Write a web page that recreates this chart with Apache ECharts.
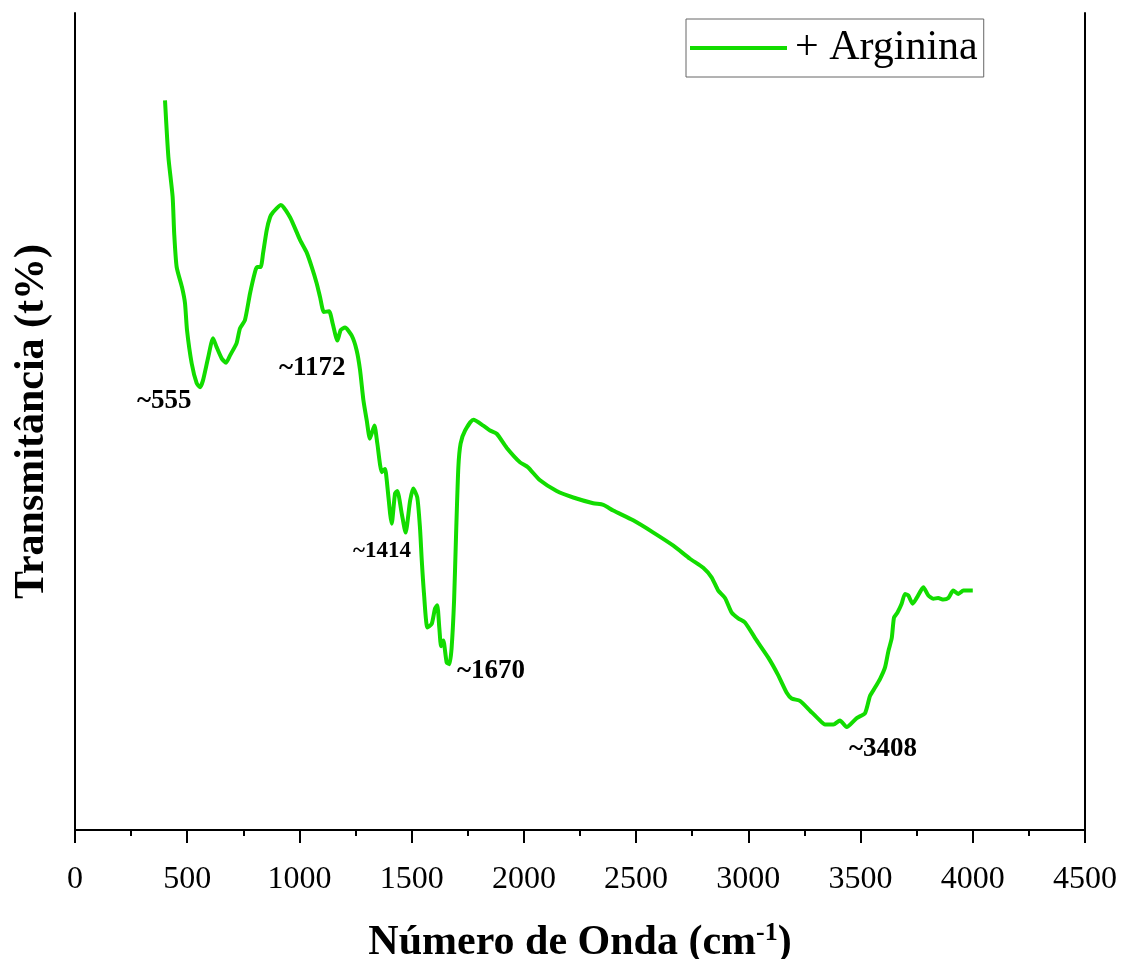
<!DOCTYPE html>
<html>
<head>
<meta charset="utf-8">
<script src="https://cdn.jsdelivr.net/npm/echarts@6/dist/echarts.min.js"></script>
<style>html,body{margin:0;padding:0;background:#fff;}#c{width:1121px;height:959px;}</style>
</head>
<body>
<div id="c"></div>
<script>
// Wavenumber (cm-1)
const wavenumbers = [401,416,435,442,453,477,490,499,520,542,557,570,593,615,631,654,673,691,720,735,757,780,802,811,827,838,854,869,882,917,958,1003,1032,1055,1077,1092,1109,1132,1148,1169,1184,1203,1233,1255,1270,1285,1300,1314,1334,1347,1367,1381,1389,1404,1411,1426,1436,1456,1473,1493,1507,1525,1537,1545,1555,1570,1589,1604,1614,1623,1631,1641,1656,1668,1678,1689,1698,1708,1718,1738,1775,1819,1849,1879,1923,1983,2018,2072,2146,2220,2309,2354,2398,2487,2577,2666,2740,2799,2837,2866,2896,2926,2955,2985,3037,3089,3134,3171,3193,3230,3275,3312,3342,3379,3408,3438,3483,3520,3542,3564,3587,3609,3624,3639,3649,3664,3683,3698,3713,3732,3750,3780,3802,3824,3846,3869,3891,3913,3936,3958,4000];
// Transmittance (arbitrary %)
const transmittance = [89.3,82.4,77.5,73.0,68.9,66.4,64.5,61.2,57.1,54.7,54.2,55.0,57.8,60.2,59.1,57.7,57.2,58.1,59.6,61.4,62.4,65.7,68.3,68.9,68.9,70.6,73.4,75.0,75.6,76.5,75.0,72.2,70.7,68.9,66.9,65.2,63.4,63.5,62.0,59.9,61.2,61.5,60.5,58.7,56.3,52.6,50.1,47.9,49.5,47.3,43.8,44.2,42.8,38.7,37.5,41.2,41.5,38.7,36.4,40.3,41.8,40.7,37.0,33.0,28.9,24.8,25.2,27.1,27.5,24.8,22.5,23.2,20.5,20.3,22.3,28.1,36.3,44.4,47.3,48.9,50.2,49.5,48.9,48.5,46.8,45.0,44.4,42.8,41.5,40.7,40.0,39.8,39.1,37.9,36.4,34.8,33.2,32.1,30.9,29.3,28.4,26.6,25.9,25.4,23.2,21.1,18.9,16.8,16.1,15.8,14.6,13.6,12.9,12.9,13.4,12.6,13.7,14.3,16.4,17.4,18.5,19.9,21.9,23.5,26.0,26.6,27.7,28.9,28.7,27.7,28.4,29.7,28.7,28.3,28.4,28.2,28.4,29.3,28.9,29.3,29.3];
const xTicks = [0,500,1000,1500,2000,2500,3000,3500,4000,4500];
const seriesName = '+ Arginina';
const peakLabels = ['~555','~1172','~1414','~1670','~3408'];

const FONT = '"Liberation Serif","Times New Roman",serif';
const GREEN = '#12dc00';
const chart = echarts.init(document.getElementById('c'));
const data = wavenumbers.map((w,i)=>[w, transmittance[i]]);

chart.setOption({
  animation:false,
  backgroundColor:'#fff',
  grid:{left:75,right:36,top:13,bottom:129,containLabel:false,outerBoundsMode:'none'},
  legend:{
    left:686, top:19, padding:[8,6,8,4],
    borderColor:'#666', borderWidth:1, borderRadius:0,
    icon:'rect', itemWidth:97, itemHeight:4,
    textStyle:{fontFamily:FONT,fontSize:42,color:'#000',padding:[0,0,0,3]},
    data:[seriesName]
  },
  xAxis:{
    type:'value', min:xTicks[0], max:xTicks[xTicks.length-1], interval:500,
    name:'{a|Número de Onda (cm}{s|-1}{a|)}',
    nameLocation:'middle', nameGap:90,
    nameTextStyle:{rich:{
      a:{fontFamily:FONT,fontSize:42,fontWeight:'bold',color:'#000'},
      s:{fontFamily:FONT,fontSize:26,fontWeight:'bold',color:'#000',padding:[0,0,20,0]}
    }},
    axisLine:{lineStyle:{color:'#000',width:2}},
    axisTick:{inside:false,length:13,lineStyle:{color:'#000',width:2}},
    minorTick:{show:true,splitNumber:2,length:6,lineStyle:{color:'#000',width:2}},
    axisLabel:{fontFamily:FONT,fontSize:32,color:'#000',margin:34,formatter:v=>String(v)},
    splitLine:{show:false}
  },
  yAxis:[{
    type:'value', min:0, max:100, position:'left',
    name:'Transmitância (t%)', nameLocation:'middle', nameGap:22,
    nameTextStyle:{fontFamily:FONT,fontSize:42,fontWeight:'bold',color:'#000'},
    axisLine:{show:true,lineStyle:{color:'#000',width:2}},
    axisTick:{show:false}, axisLabel:{show:false}, splitLine:{show:false}
  },{
    type:'value', min:0, max:100, position:'right',
    axisLine:{show:true,lineStyle:{color:'#000',width:2}},
    axisTick:{show:false}, axisLabel:{show:false}, splitLine:{show:false}
  }],
  series:[{
    name:seriesName, type:'line', data:data, symbol:'none', showSymbol:false, smooth:0.2,
    lineStyle:{color:GREEN,width:4}, itemStyle:{color:GREEN}
  }],
  graphic:[
    {type:'text',left:137,top:388,style:{text:peakLabels[0],font:'bold 27px '+FONT,fill:'#000'}},
    {type:'text',left:279,top:355,style:{text:peakLabels[1],font:'bold 27px '+FONT,fill:'#000'}},
    {type:'text',left:353,top:540,style:{text:peakLabels[2],font:'bold 23px '+FONT,fill:'#000'}},
    {type:'text',left:457,top:658,style:{text:peakLabels[3],font:'bold 27px '+FONT,fill:'#000'}},
    {type:'text',left:849,top:736,style:{text:peakLabels[4],font:'bold 27px '+FONT,fill:'#000'}}
  ]
});
</script>
</body>
</html>
